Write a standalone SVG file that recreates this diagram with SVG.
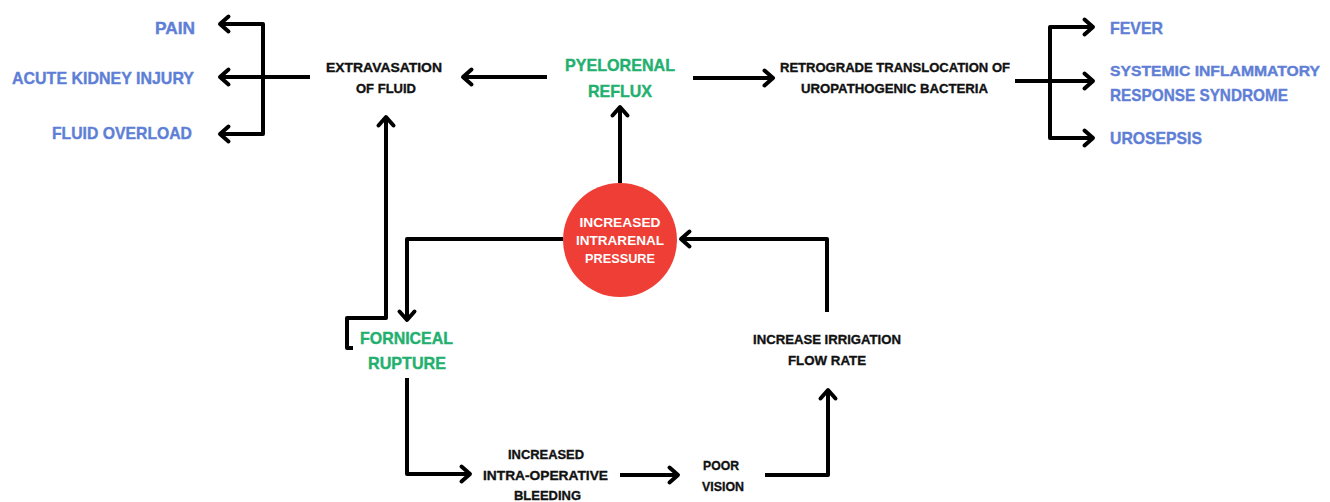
<svg xmlns="http://www.w3.org/2000/svg" width="1330" height="502" viewBox="0 0 1330 502">
<style>
text{font-family:"Liberation Sans",Arial,sans-serif;font-weight:bold;}
.k{font-size:13.5px;fill:#111;stroke:#111;stroke-width:0.35px;text-anchor:middle;}
.b{font-size:17px;fill:#5f7fd6;stroke:#5f7fd6;stroke-width:0.4px;}
.g{font-size:17px;fill:#23b06f;stroke:#23b06f;stroke-width:0.4px;text-anchor:middle;}
.w{font-size:12.5px;fill:#fff;text-anchor:middle;}
.c{fill:none;stroke:#000;stroke-width:4;stroke-linejoin:round;stroke-linecap:butt;}
</style>
<defs>
<marker id="ah" markerUnits="userSpaceOnUse" viewBox="-12 -10 16 20" markerWidth="16" markerHeight="20" refX="0" refY="0" orient="auto" overflow="visible">
<path d="M-8.5,-7.5 L0,0 L-8.5,7.5" fill="none" stroke="#000" stroke-width="4" stroke-linecap="round" stroke-linejoin="round"/>
</marker>
</defs>
<rect width="1330" height="502" fill="#fff"/>
<g id="connectors">
<path class="c" d="M310,77 H220" marker-end="url(#ah)"/>
<path class="c" d="M263,77 V24 H220" marker-end="url(#ah)"/>
<path class="c" d="M263,77 V134 H220" marker-end="url(#ah)"/>
<path class="c" d="M547,77 H463" marker-end="url(#ah)"/>
<path class="c" d="M693,78 H773" marker-end="url(#ah)"/>
<path class="c" d="M1015,81 H1093" marker-end="url(#ah)"/>
<path class="c" d="M1050,81 V27 H1093" marker-end="url(#ah)"/>
<path class="c" d="M1050,81 V138 H1093" marker-end="url(#ah)"/>
<path class="c" d="M620,183 V107" marker-end="url(#ah)"/>
<path class="c" d="M563,239 H407 V320" marker-end="url(#ah)"/>
<path class="c" d="M353,348 H347 V318 H386 V117" marker-end="url(#ah)"/>
<path class="c" d="M407,378 V474 H470" marker-end="url(#ah)"/>
<path class="c" d="M620,475 H678" marker-end="url(#ah)"/>
<path class="c" d="M765,475 H828 V390" marker-end="url(#ah)"/>
<path class="c" d="M827,312 V239 H681" marker-end="url(#ah)"/>
</g>
<g id="pain"><text class="b" x="195" y="34" text-anchor="end" textLength="40" lengthAdjust="spacingAndGlyphs">PAIN</text></g>
<g id="aki"><text class="b" x="194" y="84" text-anchor="end" textLength="182" lengthAdjust="spacingAndGlyphs">ACUTE KIDNEY INJURY</text></g>
<g id="fluid-overload"><text class="b" x="192" y="139" text-anchor="end" textLength="140" lengthAdjust="spacingAndGlyphs">FLUID OVERLOAD</text></g>
<g id="extravasation">
<text class="k" x="384" y="72" textLength="116" lengthAdjust="spacingAndGlyphs">EXTRAVASATION</text>
<text class="k" x="386" y="93" textLength="60" lengthAdjust="spacingAndGlyphs">OF FLUID</text>
</g>
<g id="pyelorenal">
<text class="g" x="620" y="71" textLength="110" lengthAdjust="spacingAndGlyphs">PYELORENAL</text>
<text class="g" x="620" y="97" textLength="64" lengthAdjust="spacingAndGlyphs">REFLUX</text>
</g>
<g id="retrograde">
<text class="k" x="895" y="72" textLength="230" lengthAdjust="spacingAndGlyphs">RETROGRADE TRANSLOCATION OF</text>
<text class="k" x="894.5" y="93" textLength="187" lengthAdjust="spacingAndGlyphs">UROPATHOGENIC BACTERIA</text>
</g>
<g id="fever"><text class="b" x="1110" y="34" textLength="53" lengthAdjust="spacingAndGlyphs">FEVER</text></g>
<g id="sirs">
<text class="b" x="1110" y="76" font-size="15.2" style="font-size:15.2px" textLength="210" lengthAdjust="spacingAndGlyphs">SYSTEMIC INFLAMMATORY</text>
<text class="b" x="1110" y="101" textLength="178" lengthAdjust="spacingAndGlyphs">RESPONSE SYNDROME</text>
</g>
<g id="urosepsis"><text class="b" x="1110" y="144" textLength="92" lengthAdjust="spacingAndGlyphs">UROSEPSIS</text></g>
<g id="pressure">
<circle cx="620" cy="240" r="57" fill="#ef3e36"/>
<text class="w" x="620" y="226.5" textLength="81" lengthAdjust="spacingAndGlyphs">INCREASED</text>
<text class="w" x="620" y="244.5" textLength="88" lengthAdjust="spacingAndGlyphs">INTRARENAL</text>
<text class="w" x="620" y="262.5" textLength="70" lengthAdjust="spacingAndGlyphs">PRESSURE</text>
</g>
<g id="forniceal">
<text class="g" x="406.5" y="344" textLength="93" lengthAdjust="spacingAndGlyphs">FORNICEAL</text>
<text class="g" x="407" y="369" textLength="78" lengthAdjust="spacingAndGlyphs">RUPTURE</text>
</g>
<g id="bleeding">
<text class="k" x="546" y="459" textLength="76" lengthAdjust="spacingAndGlyphs">INCREASED</text>
<text class="k" x="545.5" y="480" textLength="125" lengthAdjust="spacingAndGlyphs">INTRA-OPERATIVE</text>
<text class="k" x="547.5" y="500" textLength="67" lengthAdjust="spacingAndGlyphs">BLEEDING</text>
</g>
<g id="poor-vision">
<text class="k" x="721" y="470" textLength="36" lengthAdjust="spacingAndGlyphs">POOR</text>
<text class="k" x="723" y="491" textLength="42" lengthAdjust="spacingAndGlyphs">VISION</text>
</g>
<g id="irrigation">
<text class="k" x="827" y="344" textLength="148" lengthAdjust="spacingAndGlyphs">INCREASE IRRIGATION</text>
<text class="k" x="827" y="365" textLength="78" lengthAdjust="spacingAndGlyphs">FLOW RATE</text>
</g>
</svg>
